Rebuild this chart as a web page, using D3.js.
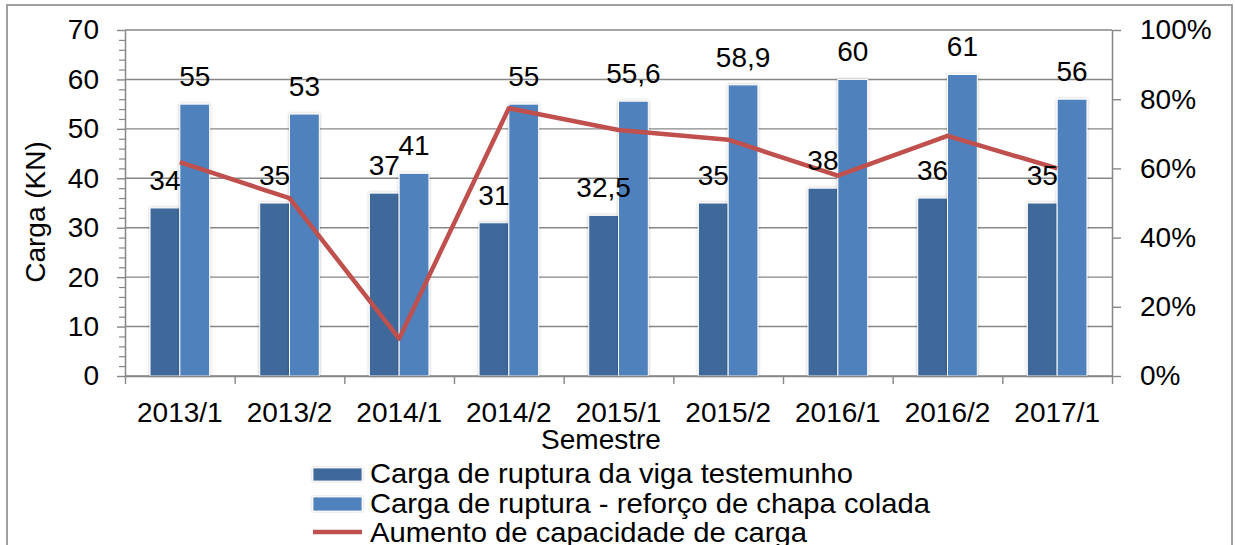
<!DOCTYPE html>
<html>
<head>
<meta charset="utf-8">
<script src="https://cdn.jsdelivr.net/npm/d3@7"></script>
<style>
  html, body { margin: 0; padding: 0; background: #fff; }
  svg { display: block; font-family: "Liberation Sans", Arial, sans-serif; }
</style>
</head>
<body>
<svg id="chart" width="1235" height="545"></svg>
<script>
// ---- data ----
const categories = ["2013/1", "2013/2", "2014/1", "2014/2", "2015/1", "2015/2", "2016/1", "2016/2", "2017/1"];
const cargaTestemunho = [34, 35, 37, 31, 32.5, 35, 38, 36, 35];
const cargaReforco = [55, 53, 41, 55, 55.6, 58.9, 60, 61, 56];
const aumentoCapacidade = [0.618, 0.514, 0.108, 0.774, 0.711, 0.683, 0.579, 0.694, 0.600];
const leftTicks = [0, 10, 20, 30, 40, 50, 60, 70];
const rightTicks = [0, 0.2, 0.4, 0.6, 0.8, 1.0];
const seriesNames = [
  "Carga de ruptura da viga testemunho",
  "Carga de ruptura - reforço de chapa colada",
  "Aumento de capacidade de carga"
];
const yTitle = "Carga (KN)";
const xTitle = "Semestre";

// ---- layout ----
const W = 1235, H = 545;
const L = 125, R = 1112, T = 30, B = 376;
const C = { dark: "#40699B", light: "#4F81BD", line: "#C0504D", grid: "#878787", text: "#000" };
const FS = 28;

const svg = d3.select("#chart");
const defs = svg.append("defs");
const f = defs.append("filter").attr("id", "sh").attr("x", "-30%").attr("y", "-10%").attr("width", "160%").attr("height", "120%");
f.append("feDropShadow").attr("dx", 0).attr("dy", 0).attr("stdDeviation", 1.6).attr("flood-color", "#000").attr("flood-opacity", 0.28);

// outer border
svg.append("rect").attr("x", 7).attr("y", 5).attr("width", 1225).attr("height", 560)
  .attr("fill", "#fff").attr("stroke", "#898989").attr("stroke-width", 1.6);

// scales
const x = d3.scaleBand().domain(categories).range([L, R]).padding(0);
const xs = d3.scaleBand().domain([0, 1]).range([0, x.bandwidth()]).paddingInner(0).paddingOuter(0.84);
const xIdx = d3.scaleLinear().domain([0, categories.length]).range([L, R]);
const y = d3.scaleLinear().domain([0, 70]).range([B, T]);
const yR = d3.scaleLinear().domain([0, 1]).range([B, T]);

// gridlines
svg.append("g").selectAll("line").data(leftTicks).join("line")
  .attr("x1", L).attr("x2", R).attr("y1", d => y(d)).attr("y2", d => y(d))
  .attr("stroke", C.grid).attr("stroke-width", 1.4);

// bars
const seriesVals = [cargaTestemunho, cargaReforco];
const seriesCols = [C.dark, C.light];
seriesVals.forEach((vals, si) => {
  svg.append("g").selectAll("rect").data(vals).join("rect")
    .attr("x", (d, i) => x(categories[i]) + xs(si))
    .attr("y", d => y(d))
    .attr("width", xs.bandwidth())
    .attr("height", d => B - y(d))
    .attr("fill", seriesCols[si])
    .attr("stroke", "#fff").attr("stroke-width", 1)
    .attr("filter", "url(#sh)");
});

// axes
function styleAxis(g) {
  g.select(".domain").attr("stroke", C.grid).attr("stroke-width", 1.5);
  g.selectAll(".tick line").attr("stroke", C.grid).attr("stroke-width", 1.4);
  g.selectAll("text").attr("font-size", FS).attr("fill", C.text).attr("font-family", "Liberation Sans, Arial, sans-serif");
}
// minor left ticks
svg.append("g").attr("transform", `translate(${L},0)`)
  .call(d3.axisLeft(y).tickValues(d3.range(0, 71, 2).filter(v => v % 10 !== 0)).tickSize(6).tickFormat(""))
  .call(g => { g.select(".domain").remove(); g.selectAll(".tick line").attr("stroke", C.grid).attr("stroke-width", 1.2); });
svg.append("g").attr("transform", `translate(${L},0)`)
  .call(d3.axisLeft(y).tickValues(leftTicks).tickSize(8).tickSizeOuter(0).tickPadding(18))
  .call(styleAxis);

svg.append("g").attr("transform", `translate(${R},0)`)
  .call(d3.axisRight(yR).tickValues(rightTicks).tickSize(9).tickSizeOuter(0).tickPadding(19).tickFormat(d3.format(".0%")))
  .call(styleAxis);

// x axis boundary ticks
svg.append("g").attr("transform", `translate(0,${B})`)
  .call(d3.axisBottom(xIdx).tickValues(d3.range(0, categories.length + 1)).tickSize(8).tickSizeOuter(0).tickFormat(""))
  .call(styleAxis);
// x axis labels
svg.append("g").attr("transform", `translate(0,${B})`)
  .call(d3.axisBottom(x).tickSize(0).tickPadding(0))
  .call(g => {
    g.select(".domain").remove();
    g.selectAll("text").attr("font-size", FS).attr("fill", C.text).attr("dy", null).attr("y", 46);
  });

// line
const lineGen = d3.line().x((d, i) => x(categories[i]) + x.bandwidth() / 2).y(d => yR(d));
svg.append("path").datum(aumentoCapacidade)
  .attr("d", lineGen).attr("fill", "none").attr("stroke", C.line)
  .attr("stroke-width", 4.5).attr("stroke-linejoin", "round").attr("stroke-linecap", "butt");

// data labels
const fmt = v => String(v).replace(".", ",");
seriesVals.forEach((vals, si) => {
  svg.append("g").selectAll("text").data(vals).join("text")
    .attr("x", (d, i) => x(categories[i]) + xs(si) + xs.bandwidth() / 2)
    .attr("y", d => y(d) - 18)
    .attr("text-anchor", "middle").attr("font-size", FS).attr("fill", C.text)
    .text(fmt);
});

// axis titles
svg.append("text").attr("transform", "translate(45,212) rotate(-90)")
  .attr("text-anchor", "middle").attr("font-size", FS).attr("fill", C.text).text(yTitle);
svg.append("text").attr("x", 601).attr("y", 449)
  .attr("text-anchor", "middle").attr("font-size", FS).attr("fill", C.text).text(xTitle);

// legend
const legRows = [483, 513, 542];
const legLens = [483, 560, 437];
const lg = svg.append("g");
lg.append("rect").attr("x", 313).attr("y", 468).attr("width", 49).attr("height", 13).attr("fill", C.dark).attr("stroke", "#fff").attr("stroke-width", 0.8).attr("filter", "url(#sh)");
lg.append("rect").attr("x", 313).attr("y", 497).attr("width", 49).attr("height", 14).attr("fill", C.light).attr("stroke", "#fff").attr("stroke-width", 0.8).attr("filter", "url(#sh)");
lg.append("line").attr("x1", 313).attr("x2", 362).attr("y1", 532).attr("y2", 532).attr("stroke", C.line).attr("stroke-width", 4.5);
lg.selectAll("text").data(seriesNames).join("text")
  .attr("x", 370).attr("y", (d, i) => legRows[i])
  .attr("font-size", FS).attr("fill", C.text)
  .attr("textLength", (d, i) => legLens[i]).attr("lengthAdjust", "spacingAndGlyphs")
  .text(d => d);
</script>
</body>
</html>
